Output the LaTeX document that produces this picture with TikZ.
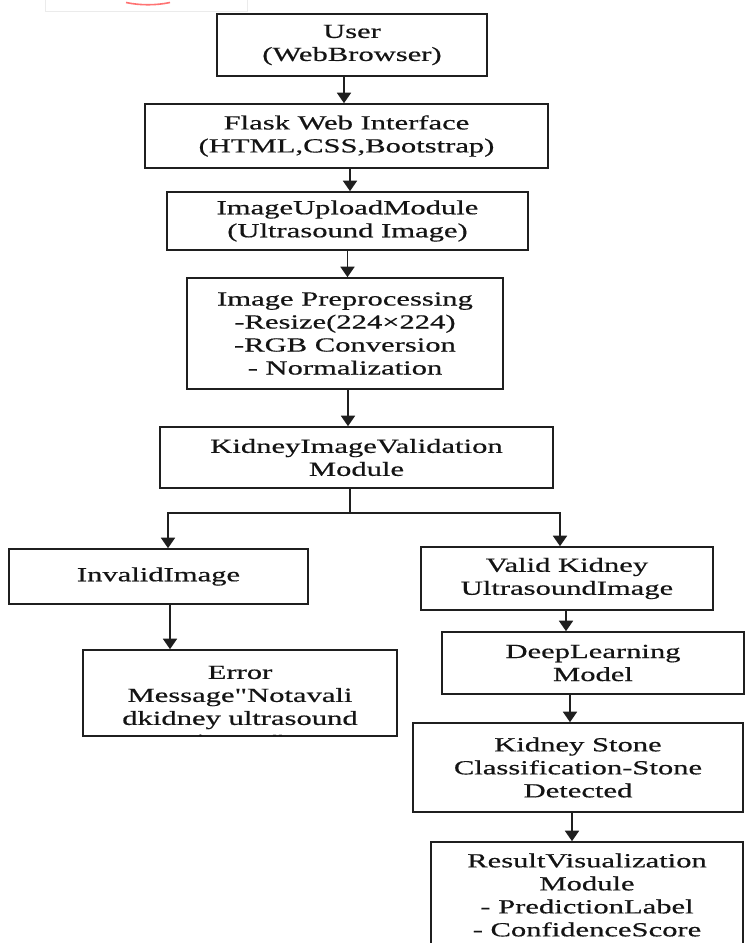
\documentclass[tikz,border=0pt]{standalone}
\usepackage{fontspec}
\setmainfont{Liberation Serif}[FakeStretch=1.53, FakeBold=0.5, Ligatures=TeXOff]
\usetikzlibrary{arrows.meta}
\begin{document}
\begin{tikzpicture}[x=1pt,y=-1pt,
  box/.style={draw=black!88, line width=1.6pt, fill=white, inner sep=0pt, align=center,
    font=\fontsize{20}{23}\selectfont, text=black!92},
  txt/.style={inner sep=0pt, align=center, font=\fontsize{20}{23}\selectfont, text=black!92},
  conn/.style={draw=black!88, line width=1.8pt},
  arr/.style={conn, -{Triangle[length=10.5pt,width=14pt]}}]
\useasboundingbox (0,0) rectangle (745,943);
\clip (0,0) rectangle (745,943);
% faint artefact at top
\draw[black!8, line width=0.8pt] (45,-2) -- (45,11) -- (247,11) -- (247,-2);
\draw[red!55!white, line width=1.6pt] (126,2.5) .. controls (140,5.5) and (156,5.5) .. (170,2.5);
% boxes
\node[box, minimum width=270, minimum height=62] (user) at (352,45) {User\\(WebBrowser)};
\node[box, minimum width=403, minimum height=64] (flask) at (346.5,136) {Flask Web Interface\\(HTML,CSS,Bootstrap)};
\node[box, minimum width=361, minimum height=58] (upload) at (347.5,221) {ImageUploadModule\\ (Ultrasound Image)};
\node[box, minimum width=316, minimum height=111] (prep) at (345,333.5) {Image Preprocessing\\-Resize(224×224)\\-RGB Conversion\\- Normalization};
\node[box, minimum width=393, minimum height=61] (val) at (356.5,457.5) {KidneyImageValidation\\ Module};
\node[box, minimum width=299, minimum height=55] (invalid) at (158.5,576.5) {InvalidImage};
\node[box, minimum width=314, minimum height=86] (error) at (240,693) {};
\begin{scope}
  \clip ([xshift=1pt,yshift=-1pt]error.north west) rectangle ([xshift=-1pt,yshift=1pt]error.south east);
  \node[txt] (errortext) at (240,709) {Error\\Message"Notavali\\dkidney ultrasound\\image"};
\end{scope}
\node[box, minimum width=292, minimum height=63] (valid) at (567,578.5) {Valid Kidney\\UltrasoundImage};
\node[box, minimum width=302, minimum height=62] (dl) at (593,663) {DeepLearning\\Model};
\node[box, minimum width=330, minimum height=89] (ks) at (578,767.5) {Kidney Stone\\Classification-Stone\\Detected};
\node[box, minimum width=312, minimum height=106] (res) at (587,895) {ResultVisualization\\Module\\- PredictionLabel\\- ConfidenceScore};
% connectors
\draw[arr] ([xshift=-8pt]user.south) -- ([xshift=-8pt]user.south |- flask.north);
\draw[arr] ([xshift=3.5pt]flask.south) -- ([xshift=3.5pt]flask.south |- upload.north);
\draw[arr] (upload.south) -- (upload.south |- prep.north);
\draw[arr] ([xshift=3pt]prep.south) -- ([xshift=3pt]prep.south |- val.north);
\coordinate (split) at ([xshift=-6.5pt,yshift=-24.5pt]val.south);
\draw[conn] ([xshift=-6.5pt]val.south) -- (split);
\draw[arr] (split) -| ([xshift=9.5pt]invalid.north);
\draw[arr] (split) -| ([xshift=-7pt]valid.north);
\draw[arr] ([xshift=11.5pt]invalid.south) -- ([xshift=11.5pt]invalid.south |- error.north);
\draw[arr] ([xshift=-1pt]valid.south) -- ([xshift=-1pt]valid.south |- dl.north);
\draw[arr] ([xshift=-8pt]ks.north |- dl.south) -- ([xshift=-8pt]ks.north);
\draw[arr] ([xshift=-6pt]ks.south) -- ([xshift=-6pt]ks.south |- res.north);
\end{tikzpicture}
\end{document}
